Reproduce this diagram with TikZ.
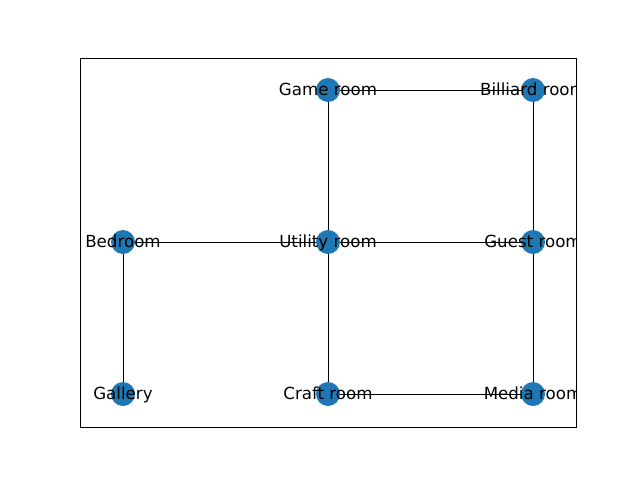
\documentclass[tikz,border=0pt]{standalone}
\usepackage{fontspec}
\setmainfont{DejaVu Sans}
\usetikzlibrary{backgrounds}

\begin{document}
\begin{tikzpicture} [x=0.72pt,y=-0.72pt,room/.style={circle,fill={rgb,255:red,31;green,119;blue,180},minimum size=24*0.72pt,inner sep=0pt},roomname/.style={font=\fontsize{12}{14}\selectfont,inner sep=0pt,text height=9.6pt,text depth=2.4pt},edge/.style={line width=0.6pt}]
\useasboundingbox (0,0) rectangle (640,480);
\begin{scope}
\clip (80,58) rectangle (576,427);
\node[room] (game) at (328,90) {};
\node[room] (billiard) at (533,90) {};
\node[room] (bedroom) at (123,242) {};
\node[room] (utility) at (328,242) {};
\node[room] (guest) at (533,242) {};
\node[room] (gallery) at (123,394) {};
\node[room] (craft) at (328,394) {};
\node[room] (media) at (533,394) {};
\begin{pgfonlayer}{background}
\draw[edge] (game) -- (billiard);
\draw[edge] (game) -- (utility);
\draw[edge] (billiard) -- (guest);
\draw[edge] (bedroom) -- (utility);
\draw[edge] (utility) -- (guest);
\draw[edge] (bedroom) -- (gallery);
\draw[edge] (utility) -- (craft);
\draw[edge] (guest) -- (media);
\draw[edge] (craft) -- (media);
\end{pgfonlayer}
\node[roomname] at (game) {Game room};
\node[roomname] at (billiard) {Billiard room};
\node[roomname] at (bedroom) {Bedroom};
\node[roomname] at (utility) {Utility room};
\node[roomname] at (guest) {Guest room};
\node[roomname] at (gallery) {Gallery};
\node[roomname] at (craft) {Craft room};
\node[roomname] at (media) {Media room};
\end{scope}
\draw[line width=0.72pt] (80,58) rectangle (576,427); % frame
\end{tikzpicture}
\end{document}
